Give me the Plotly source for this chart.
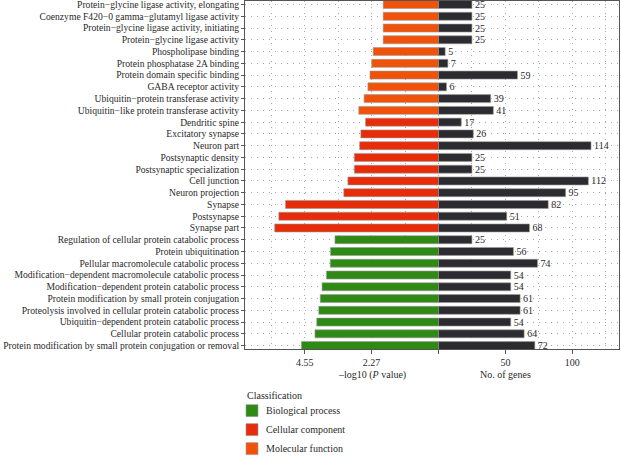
import plotly.graph_objects as go

categories = [
    "Protein−glycine ligase activity, elongating",
    "Coenzyme F420−0 gamma−glutamyl ligase activity",
    "Protein−glycine ligase activity, initiating",
    "Protein−glycine ligase activity",
    "Phospholipase binding",
    "Protein phosphatase 2A binding",
    "Protein domain specific binding",
    "GABA receptor activity",
    "Ubiquitin−protein transferase activity",
    "Ubiquitin−like protein transferase activity",
    "Dendritic spine",
    "Excitatory synapse",
    "Neuron part",
    "Postsynaptic density",
    "Postsynaptic specialization",
    "Cell junction",
    "Neuron projection",
    "Synapse",
    "Postsynapse",
    "Synapse part",
    "Regulation of cellular protein catabolic process",
    "Protein ubiquitination",
    "Pellular macromolecule catabolic process",
    "Modification−dependent macromolecule catabolic process",
    "Modification−dependent protein catabolic process",
    "Protein modification by small protein conjugation",
    "Proteolysis involved in cellular protein catabolic process",
    "Ubiquitin−dependent protein catabolic process",
    "Cellular protein catabolic process",
    "Protein modification by small protein conjugation or removal",
]
classes = (["Molecular function"] * 10 + ["Cellular component"] * 10
           + ["Biological process"] * 10)
neg_log10_p = [1.88, 1.88, 1.88, 1.88, 2.22, 2.27, 2.33, 2.40, 2.53, 2.71,
               2.48, 2.64, 2.68, 2.86, 2.86, 3.08, 3.22, 5.20, 5.43, 5.57,
               3.52, 3.67, 3.68, 3.81, 3.96, 4.02, 4.07, 4.14, 4.20, 4.66]
gene_counts = [25, 25, 25, 25, 5, 7, 59, 6, 39, 41,
               17, 26, 114, 25, 25, 112, 95, 82, 51, 68,
               25, 56, 74, 54, 54, 61, 61, 54, 64, 72]
x_tick_vals = [-100, -50, 0, 50, 100]
x_tick_text = ["4.55", "2.27", "", "50", "100"]
class_colors = {
    "Biological process": "#2e8a14",
    "Cellular component": "#e62c08",
    "Molecular function": "#f0520a",
}
legend_order = ["Biological process", "Cellular component", "Molecular function"]
legend_title = "Classification"

# left side: -log10 P scaled so that 4.55 spans the same length as 100 genes
scale = 100 / 4.55
ypos = list(range(len(categories)))
FONT = "Liberation Serif"
TXT = "#2a2a2a"

W, H = 621, 456
ML, MR, MT, MB = 245, 2, 1, 106.7
PW, PH = W - ML - MR, H - MT - MB


def px_x(x):
    return (x - ML) / PW


def px_y(y):
    return (H - MB - y) / PH


fig = go.Figure()
for cls in legend_order:
    idx = [i for i, c in enumerate(classes) if c == cls]
    fig.add_trace(go.Bar(
        y=[ypos[i] for i in idx],
        x=[-neg_log10_p[i] * scale for i in idx],
        orientation="h", name=cls, width=0.68,
        marker=dict(color=class_colors[cls], line=dict(color="#9a9a9a", width=0.6)),
        hoverinfo="skip", showlegend=False,
    ))
fig.add_trace(go.Bar(
    y=ypos, x=gene_counts, orientation="h", width=0.68,
    marker=dict(color="#2c2c30", line=dict(color="#9a9a9a", width=0.6)),
    text=[str(g) for g in gene_counts], textposition="outside",
    constraintext="none",
    textfont=dict(family=FONT, size=10, color=TXT),
    cliponaxis=False, showlegend=False, hoverinfo="skip",
))

fig.add_annotation(x=-50, y=px_y(367), xref="x", yref="paper", yanchor="top",
                   text="–log10 (<i>P</i> value)", showarrow=False,
                   font=dict(family=FONT, size=10, color=TXT))
fig.add_annotation(x=50, y=px_y(367), xref="x", yref="paper", yanchor="top",
                   text="No. of genes", showarrow=False,
                   font=dict(family=FONT, size=10, color=TXT))

# custom legend
fig.add_annotation(x=px_x(245), y=px_y(396), xref="paper", yref="paper",
                   xanchor="left", yanchor="middle", text=legend_title,
                   showarrow=False, font=dict(family=FONT, size=10, color=TXT))
for k, cls in enumerate(legend_order):
    cy = 411 + 19 * k
    fig.add_shape(type="rect", xref="paper", yref="paper",
                  x0=px_x(246), x1=px_x(258), y0=px_y(cy - 6), y1=px_y(cy + 6),
                  fillcolor=class_colors[cls], line=dict(color="#9a9a9a", width=0.6))
    fig.add_annotation(x=px_x(264), y=px_y(cy), xref="paper", yref="paper",
                       xanchor="left", yanchor="middle", text=cls,
                       showarrow=False, font=dict(family=FONT, size=10, color=TXT))

fig.update_layout(
    width=W, height=H,
    margin=dict(l=ML, r=MR, t=MT, b=MB),
    paper_bgcolor="white", plot_bgcolor="white",
    barmode="overlay",
    font=dict(family=FONT, size=10, color=TXT),
    xaxis=dict(
        range=[-144.6, 134.9], tickvals=x_tick_vals, ticktext=x_tick_text,
        ticks="outside", ticklen=4, tickcolor="#555",
        showline=True, linecolor="#555", linewidth=1, mirror=True,
        showgrid=False, zeroline=False, automargin=False,
        tickfont=dict(family=FONT, size=10, color=TXT),
        minor=dict(dtick=25, tick0=0, showgrid=True, gridcolor="#a8a8a8",
                   griddash="1px,5px", gridwidth=1, ticks=""),
    ),
    yaxis=dict(
        range=[29.29, -0.3], tickvals=ypos, ticktext=categories,
        ticks="outside", ticklen=3, tickcolor="#555",
        showline=True, linecolor="#555", linewidth=1, mirror=True,
        showgrid=True, gridcolor="#a8a8a8", griddash="1px,5px", gridwidth=1,
        zeroline=False, automargin=False, ticklabeloverflow="allow",
        tickfont=dict(family=FONT, size=9.6, color=TXT),
    ),
)
fig.write_html("out.html",
               config={"displayModeBar": False, "staticPlot": True},
               post_script="document.body.style.margin='0';"
                           "document.body.style.overflow='hidden';")
